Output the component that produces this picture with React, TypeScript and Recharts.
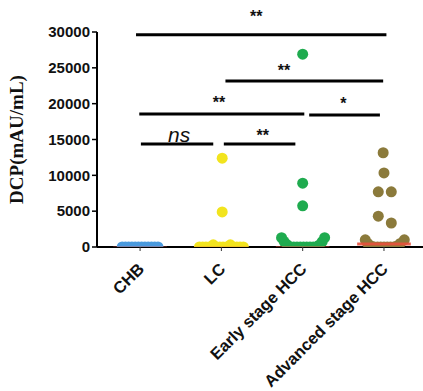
import {
  ScatterChart,
  Scatter,
  XAxis,
  YAxis,
  ReferenceLine,
  ReferenceDot,
} from "recharts";

const groups = ["CHB", "LC", "Early stage HCC", "Advanced stage HCC"];
const colors = ["#4a9ade", "#f2e41e", "#1fab4f", "#8b7a3b"];
const yTicks = [0, 5000, 10000, 15000, 20000, 25000, 30000];

// each point: [jitter around the group position, DCP value]
const chbPoints = [
  [-0.22, 0], [-0.18, 0], [-0.14, 0], [-0.1, 0], [-0.06, 0], [-0.02, 0],
  [0.02, 0], [0.06, 0], [0.1, 0], [0.14, 0], [0.18, 0], [0.22, 0],
];
const lcPoints = [
  [-0.27, 0], [-0.23, 0], [-0.19, 0], [-0.15, 0], [-0.1, 300], [-0.06, 0],
  [-0.02, 0], [0.02, 0], [0.06, 0], [0.11, 300], [0.15, 0], [0.19, 0],
  [0.23, 0], [0.27, 0], [0.01, 4900], [0.01, 12400],
];
const earlyPoints = [
  [-0.26, 1300], [-0.23, 800], [-0.19, 300], [-0.15, 0], [-0.11, 0], [-0.07, 0],
  [-0.03, 0], [0.01, 0], [0.05, 0], [0.09, 0], [0.13, 0], [0.17, 0],
  [0.2, 250], [0.24, 750], [0.27, 1300], [0, 5750], [0, 8900], [0, 26900],
];
const advancedPoints = [
  [-0.23, 1000], [-0.2, 500], [-0.16, 150], [-0.12, 0], [-0.08, 0], [-0.04, 0],
  [0, 0], [0.04, 0], [0.08, 0], [0.12, 0], [0.16, 150], [0.2, 500],
  [0.25, 1000], [-0.07, 4300], [0.09, 3350], [-0.07, 7700], [0.09, 7700],
  [0, 10330], [-0.01, 13150],
];
const allPoints = [chbPoints, lcPoints, earlyPoints, advancedPoints];
const medians = [0, 0, 0, 420];

// significance brackets: [from, to, y, label, labelX, labelY]
const brackets: [number, number, number, string, number, number][] = [
  [-0.05, 3.03, 29600, "**", 1.43, 32200],
  [1.05, 2.99, 23150, "**", 1.77, 24600],
  [-0.01, 2.02, 18550, "**", 0.97, 20100],
  [2.08, 2.95, 18420, "*", 2.5, 20000],
  [0.01, 0.9, 14370, "ns", 0.48, 15650],
  [1.03, 1.91, 14370, "**", 1.51, 15550],
];

const XTick = (props: any) => {
  const { x, y, payload } = props;
  const ax = x + 5;
  const ay = y + 17;
  return (
    <text
      x={ax}
      y={ay}
      transform={`rotate(-45, ${ax}, ${ay})`}
      textAnchor="end"
      fontFamily="Liberation Sans, Arial, sans-serif"
      fontWeight="bold"
      fontSize={16.5}
      fill="#111"
    >
      {groups[payload.value]}
    </text>
  );
};

const StarLabel = (text: string) => (props: any) => {
  const vb = props.viewBox;
  const cx = vb.x + (vb.width || 0) / 2;
  const cy = vb.y + (vb.height || 0) / 2;
  const ns = text === "ns";
  return (
    <text
      x={cx}
      y={cy}
      textAnchor="middle"
      dominantBaseline="central"
      fontFamily="Liberation Sans, Arial, sans-serif"
      fontStyle={ns ? "italic" : "normal"}
      fontWeight={ns ? "normal" : "bold"}
      fontSize={ns ? 21 : 16}
      fill="#111"
    >
      {text}
    </text>
  );
};

export default function App() {
  return (
    <div style={{ position: "absolute", left: 0, top: 0, background: "#fff" }}>
      <ScatterChart
        width={423}
        height={391}
        margin={{ top: 32, right: 0, bottom: 0, left: 0 }}
      >
        <XAxis
          type="number"
          dataKey="x"
          domain={[-0.53, 3.48]}
          ticks={[0, 1, 2, 3]}
          height={144}
          tick={<XTick />}
          tickSize={4}
          axisLine={{ stroke: "#000", strokeWidth: 2 }}
          tickLine={{ stroke: "#333" }}
          allowDataOverflow
        />
        <YAxis
          type="number"
          dataKey="y"
          domain={[0, 30000]}
          ticks={yTicks}
          width={97}
          tickSize={5}
          tickMargin={2}
          interval={0}
          axisLine={{ stroke: "#000", strokeWidth: 2 }}
          tickLine={{ stroke: "#000", strokeWidth: 1.5 }}
          tick={{
            fontFamily: "Liberation Sans, Arial, sans-serif",
            fontWeight: "bold",
            fontSize: 15,
            fill: "#111",
          }}
          label={{
            value: "DCP(mAU/mL)",
            angle: -90,
            position: "insideLeft",
            offset: 16,
            style: {
              fontFamily: "Liberation Serif, Times New Roman, serif",
              fontWeight: "bold",
              fontSize: 19,
              fill: "#111",
              textAnchor: "middle",
            },
          }}
          allowDataOverflow
        />
        {allPoints.map((pts, g) => (
          <Scatter
            key={groups[g]}
            data={pts.map(([dx, v]) => ({ x: g + dx, y: v }))}
            isAnimationActive={false}
            shape={(p: any) => (
              <circle cx={p.cx} cy={p.cy} r={5.5} fill={colors[g]} />
            )}
          />
        ))}
        {medians.map((m, g) => (
          <Scatter
            key={"m" + g}
            data={[
              { x: g - 0.33, y: m },
              { x: g + 0.33, y: m },
            ]}
            isAnimationActive={false}
            line={{
              stroke: "#e8503c",
              strokeWidth: g === 3 ? 3 : 1.2,
              strokeOpacity: g === 1 ? 0.45 : g === 0 ? 0.6 : 0.9,
            }}
            shape={() => <g />}
          />
        ))}
        {brackets.map(([a, b, y], i) => (
          <ReferenceLine
            key={"b" + i}
            segment={[
              { x: a, y },
              { x: b, y },
            ]}
            stroke="#000"
            strokeWidth={3}
            ifOverflow="visible"
          />
        ))}
        {brackets.map(([, , , t, lx, ly], i) => (
          <ReferenceDot
            key={"s" + i}
            x={lx}
            y={ly}
            r={0}
            fill="none"
            stroke="none"
            ifOverflow="visible"
            label={StarLabel(t)}
          />
        ))}
      </ScatterChart>
    </div>
  );
}
